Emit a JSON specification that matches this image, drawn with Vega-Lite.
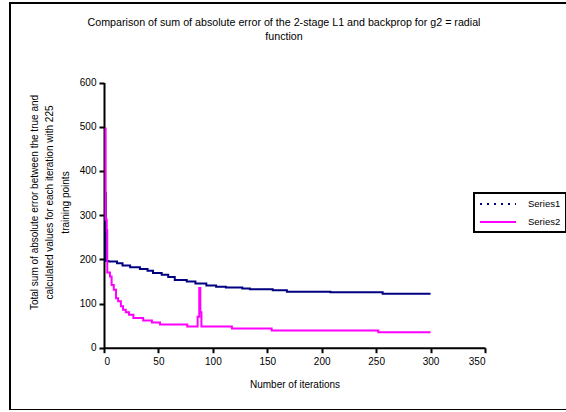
{
  "$schema": "https://vega.github.io/schema/vega-lite/v6.json",
  "width": 556,
  "height": 407,
  "autosize": {"type": "none"},
  "padding": {"left": 10, "top": 3, "right": 0, "bottom": 0},
  "background": "white",
  "config": {
    "font": "Liberation Sans",
    "view": {"stroke": "black", "strokeWidth": 2, "strokeDash": [556, 407, 964, 0]},
    "axis": {"grid": false, "domainColor": "black", "domainWidth": 2, "tickColor": "black", "tickWidth": 2, "tickSize": 5, "labelColor": "black", "labelFont": "Liberation Sans", "labelFontSize": 10, "titleFont": "Liberation Sans", "titleFontSize": 10, "titleFontWeight": "normal", "titleColor": "black"}
  },
  "title": {
    "text": ["Comparison of sum of absolute error of the 2-stage L1 and backprop for g2 = radial", "function"],
    "font": "Liberation Sans",
    "fontSize": 10.7,
    "fontWeight": "normal",
    "color": "black",
    "anchor": "middle",
    "offset": -40,
    "dx": -4,
    "lineHeight": 14.5
  },
  "data": {
    "values": [
      {"iter": 1, "error": 350, "series": "Series1"},
      {"iter": 1.6, "error": 196, "series": "Series1"},
      {"iter": 4, "error": 195, "series": "Series1"},
      {"iter": 12, "error": 191, "series": "Series1"},
      {"iter": 17, "error": 186, "series": "Series1"},
      {"iter": 24, "error": 182, "series": "Series1"},
      {"iter": 33, "error": 178, "series": "Series1"},
      {"iter": 40, "error": 174, "series": "Series1"},
      {"iter": 45, "error": 169, "series": "Series1"},
      {"iter": 53, "error": 165, "series": "Series1"},
      {"iter": 59, "error": 160, "series": "Series1"},
      {"iter": 65, "error": 153, "series": "Series1"},
      {"iter": 76, "error": 150, "series": "Series1"},
      {"iter": 84, "error": 145, "series": "Series1"},
      {"iter": 94, "error": 141, "series": "Series1"},
      {"iter": 103, "error": 138, "series": "Series1"},
      {"iter": 112, "error": 136, "series": "Series1"},
      {"iter": 127, "error": 134, "series": "Series1"},
      {"iter": 134, "error": 132, "series": "Series1"},
      {"iter": 155, "error": 130, "series": "Series1"},
      {"iter": 168, "error": 126.5, "series": "Series1"},
      {"iter": 208, "error": 125.5, "series": "Series1"},
      {"iter": 256, "error": 122, "series": "Series1"},
      {"iter": 300, "error": 122, "series": "Series1"},
      {"iter": 1, "error": 496, "series": "Series2"},
      {"iter": 1.5, "error": 290, "series": "Series2"},
      {"iter": 2.5, "error": 266, "series": "Series2"},
      {"iter": 3, "error": 170, "series": "Series2"},
      {"iter": 5.5, "error": 161, "series": "Series2"},
      {"iter": 7, "error": 142, "series": "Series2"},
      {"iter": 9, "error": 131, "series": "Series2"},
      {"iter": 11, "error": 112, "series": "Series2"},
      {"iter": 13, "error": 105, "series": "Series2"},
      {"iter": 15.5, "error": 94, "series": "Series2"},
      {"iter": 17.5, "error": 86, "series": "Series2"},
      {"iter": 20, "error": 80, "series": "Series2"},
      {"iter": 23, "error": 74.5, "series": "Series2"},
      {"iter": 27, "error": 67, "series": "Series2"},
      {"iter": 36, "error": 61.5, "series": "Series2"},
      {"iter": 44, "error": 57, "series": "Series2"},
      {"iter": 51.5, "error": 52.5, "series": "Series2"},
      {"iter": 76.5, "error": 48, "series": "Series2"},
      {"iter": 86, "error": 70, "series": "Series2"},
      {"iter": 87.5, "error": 135, "series": "Series2"},
      {"iter": 88.5, "error": 80, "series": "Series2"},
      {"iter": 89.5, "error": 48, "series": "Series2"},
      {"iter": 117.5, "error": 43.5, "series": "Series2"},
      {"iter": 154, "error": 39, "series": "Series2"},
      {"iter": 252, "error": 35, "series": "Series2"},
      {"iter": 300, "error": 35, "series": "Series2"}
    ]
  },
  "mark": {"type": "line", "interpolate": "step-after", "strokeWidth": 2},
  "encoding": {
    "x": {
      "field": "iter",
      "type": "quantitative",
      "scale": {"domain": [0, 350], "range": [94, 475], "nice": false, "zero": false},
      "axis": {"title": "Number of iterations", "values": [0, 50, 100, 150, 200, 250, 300, 350], "offset": -62.3, "labelPadding": 4, "titlePadding": 13}
    },
    "y": {
      "field": "error",
      "type": "quantitative",
      "scale": {"domain": [0, 600], "range": [344.7, 79.5], "nice": false, "zero": false},
      "axis": {"title": ["Total sum of absolute error between the true and", "calculated values for each iteration with 225", "training points"], "values": [0, 100, 200, 300, 400, 500, 600], "offset": -94, "labelPadding": 3, "titlePadding": 9, "titleY": 199, "titleLineHeight": 15.5}
    },
    "color": {
      "field": "series",
      "type": "nominal",
      "scale": {"domain": ["Series1", "Series2"], "range": ["#000080", "#FF00FF"]},
      "legend": {
        "title": null,
        "orient": "none",
        "legendX": 464,
        "legendY": 190,
        "strokeColor": "black",
        "padding": 5,
        "rowPadding": 7,
        "symbolType": "M-3.6,0H3.6",
        "symbolSize": 100,
        "symbolOffset": 13,
        "symbolStrokeWidth": 2,
        "labelFont": "Liberation Sans",
        "labelFontSize": 9.5,
        "labelColor": "black",
        "labelOffset": 24,
        "encode": {
          "legend": {"update": {"strokeWidth": {"value": 2}}},
          "symbols": {"update": {"strokeDash": {"signal": "datum.value === 'Series1' ? [2, 5] : []"}}}
        }
      }
    }
  }
}
